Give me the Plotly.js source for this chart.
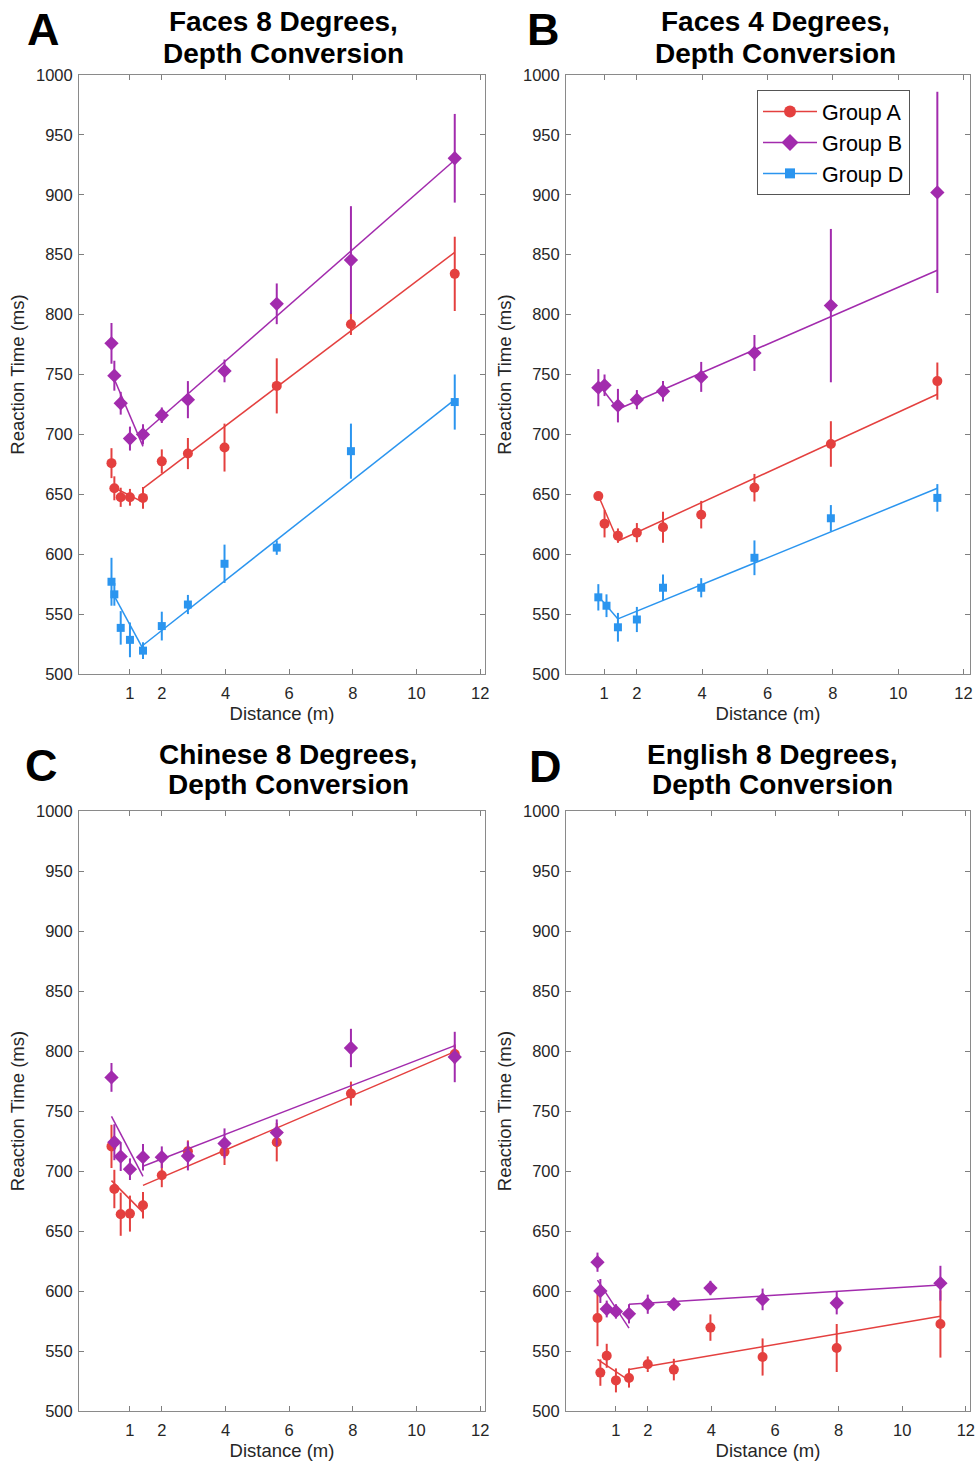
<!DOCTYPE html>
<html>
<head>
<meta charset="utf-8">
<script src="https://cdn.plot.ly/plotly-3.0.1.min.js"></script>
<style>html,body{margin:0;padding:0;background:#fff;}#chart{width:977px;height:1465px;}</style>
</head>
<body>
<div id="chart"></div>
<script>
// ---------- DATA ----------
const groupNames = ["Group A", "Group B", "Group D"];
const xTickVals = [1, 2, 4, 6, 8, 10, 12];

// Panel A: Faces 8 Degrees
const distA = [0.42, 0.51, 0.71, 1.0, 1.41, 2.0, 2.82, 3.97, 5.61, 7.94, 11.2];
const faces8_A = [676, 655, 647.5, 647.5, 647, 677.5, 684, 689, 740.5, 792, 834];
const faces8_A_err = [12.5, 10, 8, 7, 9, 10, 13, 20, 23, 9, 31];
const faces8_B = [776, 749, 726, 696.5, 700, 716, 729, 753, 809, 845.5, 930.5];
const faces8_B_err = [17, 12.5, 9.5, 10, 8.5, 6.5, 15.5, 9.5, 17, 45, 37];
const faces8_D = [577, 566.5, 538.5, 528.5, 519.5, 540, 558, 592, 605.5, 686, 727];
const faces8_D_err = [20, 9.5, 14, 14.5, 7, 12, 8, 16, 6, 23, 23];
const faces8_fitX = [0.51, 1.41, null, 1.41, 11.2];
const faces8_fitA = [655.5, 643.5, null, 655, 852];
const faces8_fitB = [746, 690, null, 701, 929];
const faces8_fitD = [565, 521, null, 524, 729];

// Panel B: Faces 4 Degrees
const distB = [0.82, 1.01, 1.42, 2.0, 2.8, 3.97, 5.6, 7.94, 11.2];
const distB_D = [0.82, 1.07, 1.42, 2.0, 2.8, 3.97, 5.6, 7.94, 11.2];
const faces4_A = [648.5, 625.5, 615.5, 618, 622.5, 633, 655.5, 692, 744.5];
const faces4_A_err = [2.5, 11.5, 6, 8, 13, 11.5, 11.5, 19, 15.5];
const faces4_B = [739, 741, 724, 729, 736, 748, 768, 807.5, 902];
const faces4_B_err = [15.5, 9, 14, 8, 8.5, 12.5, 15, 64, 84];
const faces4_D = [564, 557, 539, 545.5, 572, 572, 597, 630, 647];
const faces4_D_err = [11, 9.5, 12, 10.5, 11, 8, 14.5, 11, 11.5];
const faces4_fitX = [0.82, 1.42, null, 1.42, 11.2];
const faces4_fitA = [649, 611, null, 611, 733.5];
const faces4_fitB = [742, 721, null, 721, 837];
const faces4_fitD = [565, 546, null, 546, 655];

// Panel C: Chinese 8 Degrees
const distC = [0.42, 0.51, 0.71, 1.0, 1.41, 2.0, 2.82, 3.97, 5.61, 7.94, 11.2];
const chinese_A = [720.5, 685, 664, 664.5, 671.5, 696.5, 716.5, 716, 724, 764.5, 797.5];
const chinese_A_err = [18, 16, 18, 15, 11, 10, 9, 11, 16, 10, 8];
const chinese_B = [778, 724, 712, 701.5, 711.5, 711.5, 712.5, 723, 732, 802.5, 795];
const chinese_B_err = [12, 15, 12, 9, 11, 9, 12, 12.5, 11, 16, 21];
const chinese_fitX = [0.42, 1.41, null, 1.41, 11.2];
const chinese_fitA = [692, 665.5, null, 688, 799.5];
const chinese_fitB = [745.5, 695.5, null, 704, 804.5];

// Panel D: English 8 Degrees
const distD = [0.42, 0.51, 0.71, 1.0, 1.41, 2.0, 2.82, 3.97, 5.61, 7.94, 11.2];
const english_A = [577.5, 532, 546, 525.5, 527.5, 539, 534.5, 569.5, 545, 552.5, 572.5];
const english_A_err = [23.5, 11, 10, 10, 8, 6.5, 9, 11, 15.5, 20, 28];
const english_B = [624, 600, 585, 583, 581, 589, 589, 602.5, 593, 590, 606.5];
const english_B_err = [8, 10, 7, 6, 8, 8, 5, 6, 9, 9.5, 14.5];
const english_fitX = [0.42, 1.41, null, 1.41, 11.2];
const english_fitA = [543, 525.5, null, 534.5, 579];
const english_fitB = [609, 569, null, 589, 605];

const panelTitles = [
  ["Faces 8 Degrees,", "Depth Conversion"],
  ["Faces 4 Degrees,", "Depth Conversion"],
  ["Chinese 8 Degrees,", "Depth Conversion"],
  ["English 8 Degrees,", "Depth Conversion"]
];
const panelLetters = ["A", "B", "C", "D"];

// ---------- STYLE ----------
const W = 977, H = 1465;
const FONT = "Liberation Sans, Arial, Helvetica, sans-serif";
const colors = {A: "#e4403f", B: "#a22bad", D: "#2b95ef"};
const symbols = {A: "circle", B: "diamond", D: "square"};
const msize = {A: 10, B: 11, D: 8};
const py = p => 1 - p / H;
const pxX = p => p / W;

const traces = [];
function addGroup(ax, g, x, y, err, fitX, fitY) {
  const xa = "x" + ax, ya = "y" + ax;
  traces.push({
    type: "scatter", mode: "lines", x: fitX, y: fitY, xaxis: xa, yaxis: ya,
    line: {color: colors[g], width: 1.5}, connectgaps: false, showlegend: false, hoverinfo: "skip"
  });
  traces.push({
    type: "scatter", mode: "markers", x: x, y: y, xaxis: xa, yaxis: ya,
    marker: {color: colors[g], symbol: symbols[g], size: msize[g], line: {width: 0}},
    error_y: {type: "data", array: err, visible: true, color: colors[g], thickness: 2, width: 0},
    showlegend: false
  });
}
addGroup("", "A", distA, faces8_A, faces8_A_err, faces8_fitX, faces8_fitA);
addGroup("", "B", distA, faces8_B, faces8_B_err, faces8_fitX, faces8_fitB);
addGroup("", "D", distA, faces8_D, faces8_D_err, faces8_fitX, faces8_fitD);
addGroup("2", "A", distB, faces4_A, faces4_A_err, faces4_fitX, faces4_fitA);
addGroup("2", "B", distB, faces4_B, faces4_B_err, faces4_fitX, faces4_fitB);
addGroup("2", "D", distB_D, faces4_D, faces4_D_err, faces4_fitX, faces4_fitD);
addGroup("3", "A", distC, chinese_A, chinese_A_err, chinese_fitX, chinese_fitA);
addGroup("3", "B", distC, chinese_B, chinese_B_err, chinese_fitX, chinese_fitB);
addGroup("4", "A", distD, english_A, english_A_err, english_fitX, english_fitA);
addGroup("4", "B", distD, english_B, english_B_err, english_fitX, english_fitB);

// legend entries (line + marker)
["A", "B", "D"].forEach((g, i) => {
  traces.push({
    type: "scatter", mode: "lines+markers", x: [null], y: [null], xaxis: "x2", yaxis: "y2",
    name: groupNames[i], line: {color: colors[g], width: 1.5},
    marker: {color: colors[g], symbol: symbols[g], size: msize[g] + 2}, showlegend: true
  });
});

const leftX = [pxX(79), pxX(485)], rightX = [pxX(566), pxX(970)];
const topY = [py(674), py(75)], botY = [py(1411), py(811)];

function xAxis(domain, anchor, range) {
  return {
    domain: domain, anchor: anchor, range: range, tickvals: xTickVals,
    ticks: "inside", ticklen: 5, tickwidth: 1, tickcolor: "#7f7f7f",
    showline: true, linecolor: "#8a8a8a", linewidth: 1, mirror: "ticks",
    showgrid: false, zeroline: false, ticklabelstandoff: 4,
    tickfont: {family: FONT, size: 16.5, color: "#262626"},
    title: {text: "Distance (m)", font: {family: FONT, size: 18.5, color: "#262626"}, standoff: 6}
  };
}
function yAxis(domain, anchor) {
  return {
    domain: domain, anchor: anchor, range: [500, 1000], dtick: 50, tick0: 500,
    ticks: "inside", ticklen: 5, tickwidth: 1, tickcolor: "#7f7f7f",
    showline: true, linecolor: "#8a8a8a", linewidth: 1, mirror: "ticks",
    showgrid: false, zeroline: false, ticklabelstandoff: 2,
    tickfont: {family: FONT, size: 16.5, color: "#262626"},
    title: {text: "Reaction Time (ms)", font: {family: FONT, size: 18.5, color: "#262626"}, standoff: 6}
  };
}

const annotations = [];
const titleCenters = [[283, 21.6, 53.3], [775, 21.6, 53.3], [288, 754.6, 784], [772, 754.6, 784]];
const letterPos = [[43.5, 30], [543, 29], [41, 765], [545, 766]];
panelTitles.forEach((t, i) => {
  const c = titleCenters[i];
  [0, 1].forEach(j => annotations.push({
    text: "<b>" + t[j] + "</b>", xref: "paper", yref: "paper", x: pxX(c[0]), y: py(c[1 + j]),
    xanchor: "center", yanchor: "middle", showarrow: false,
    font: {family: FONT, size: 28, color: "#000"}
  }));
  annotations.push({
    text: "<b>" + panelLetters[i] + "</b>", xref: "paper", yref: "paper",
    x: pxX(letterPos[i][0]), y: py(letterPos[i][1]), xanchor: "center", yanchor: "middle",
    showarrow: false, font: {family: FONT, size: 45, color: "#000"}
  });
});

const layout = {
  width: W, height: H, margin: {l: 0, r: 0, t: 0, b: 0},
  paper_bgcolor: "#fff", plot_bgcolor: "#fff",
  font: {family: FONT, color: "#262626"},
  xaxis: xAxis(leftX, "y", [-0.6, 12.15]), yaxis: yAxis(topY, "x"),
  xaxis2: xAxis(rightX, "y2", [-0.17, 12.2]), yaxis2: yAxis(topY, "x2"),
  xaxis3: xAxis(leftX, "y3", [-0.6, 12.15]), yaxis3: yAxis(botY, "x3"),
  xaxis4: xAxis(rightX, "y4", [-0.57, 12.13]), yaxis4: yAxis(botY, "x4"),
  showlegend: true,
  legend: {
    x: pxX(757), y: py(90), xanchor: "left", yanchor: "top",
    bgcolor: "#fff", bordercolor: "#555", borderwidth: 1,
    font: {family: FONT, size: 21.5, color: "#000"}, itemwidth: 54, tracegroupgap: 0
  },
  annotations: annotations
};

Plotly.newPlot("chart", traces, layout, {staticPlot: true, displayModeBar: false});
</script>
</body>
</html>
